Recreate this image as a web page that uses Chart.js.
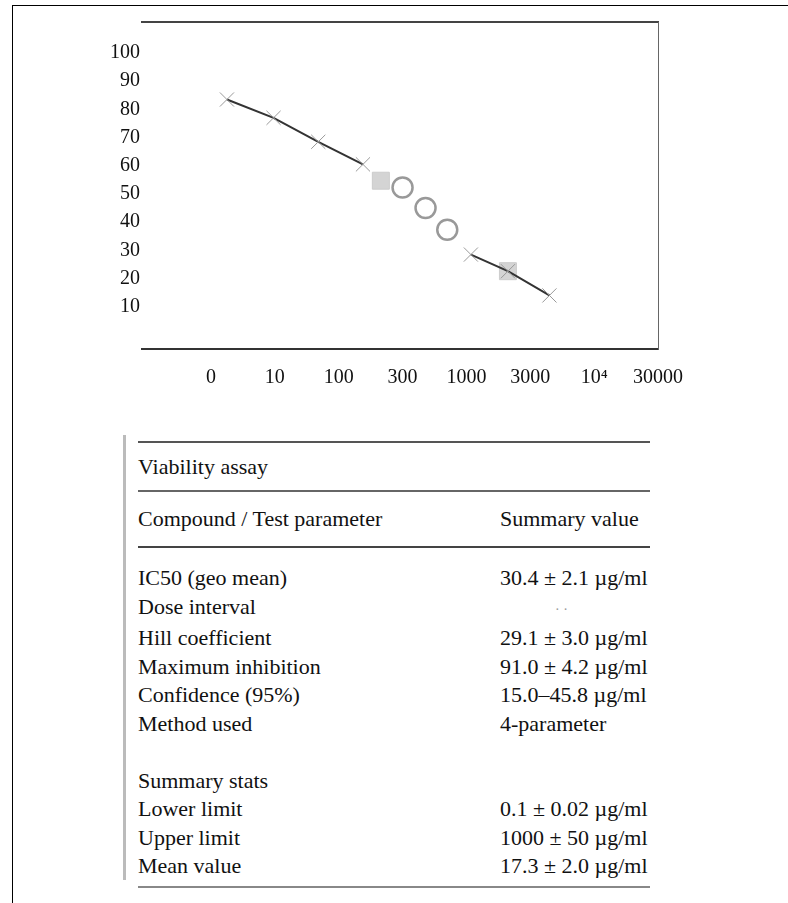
<!DOCTYPE html>
<html>
<head>
<meta charset="utf-8">
<script src="https://cdn.jsdelivr.net/npm/chart.js@4.4.1/dist/chart.umd.min.js"></script>
<style>
  body { margin: 0; background: #fff; font-family: "Liberation Serif", "DejaVu Serif", serif; }
  .page { position: absolute; left: 12px; top: 5px; width: 775px; height: 960px; border: 1px solid #000; border-bottom: none; }
  .chart-box { position: absolute; left: 108px; top: 8px; width: 592px; height: 399px; }
  .panel { position: absolute; left: 123px; top: 435px; width: 512px; height: 445px; border-left: 3px solid #bbb; padding-left: 12px; color: #111; font-size: 22px; }
  .panel h3 { margin: 6px 0 0; height: 47px; line-height: 47px; font-size: 22px; font-weight: normal; border-top: 2px solid #555; border-bottom: 2px solid #666; }
  .panel table { width: 100%; border-collapse: collapse; }
  .panel th { font-weight: normal; text-align: left; height: 54px; padding: 0; border-bottom: 2px solid #444; font-size: 22px; }
  .panel td { padding: 0; height: 28.5px; line-height: 28.5px; vertical-align: top; white-space: nowrap; }
  .panel td.v, .panel th.v { width: 150px; }
  .panel tr.gap td { height: 16px; }
  .panel tr.blank td { height: 28.5px; }
  .panel tr.last td { border-bottom: 2px solid #888; height: 34px; }
  .panel .dim { color: #999; font-size: 14px; padding-left: 55px; }
</style>
</head>
<body>
<div class="page"></div>
<div class="chart-box"><canvas id="chart"></canvas></div>

<div class="panel">
  <h3>Viability assay</h3>
  <table>
    <thead><tr><th>Compound / Test parameter</th><th class="v">Summary value</th></tr></thead>
    <tbody id="rows"><tr class="gap"><td></td><td></td></tr></tbody>
  </table>
</div>

<script>
// x tick labels (dose) and y ticks (% response)
const xLabels = ['0', '10', '100', '300', '1000', '3000', '10⁴', '30000'];
const yTicks = [10, 20, 30, 40, 50, 60, 70, 80, 90, 100];

// fitted curve (null = gap in the line)
const fitX = [0.25, 0.98, 1.68, 2.38, 3.0, 4.07, 4.65, 5.3];
const fitY = [83.5, 77, 68.5, 60.5, null, 28.5, 22.6, 14];

// measured points
const openX = [3.0, 3.36, 3.7];
const openY = [52.3, 45, 37.3];
const boxX = [2.66, 4.65];
const boxY = [54.7, 22.6];

// summary table
const rowLabels = ['IC50 (geo mean)', 'Dose interval', 'Hill coefficient', 'Maximum inhibition', 'Confidence (95%)', 'Method used'];
const rowValues = ['30.4 ± 2.1 µg/ml', '–', '29.1 ± 3.0 µg/ml', '91.0 ± 4.2 µg/ml', '15.0–45.8 µg/ml', '4-parameter'];
const secLabels = ['Summary stats', 'Lower limit', 'Upper limit', 'Mean value'];
const secValues = ['', '0.1 ± 0.02 µg/ml', '1000 ± 50 µg/ml', '17.3 ± 2.0 µg/ml'];

const tbody = document.getElementById('rows');
rowLabels.forEach((l, i) => {
  const v = rowValues[i] === '–' ? `<span class="dim">· ·</span>` : rowValues[i];
  tbody.insertAdjacentHTML('beforeend', `<tr><td>${l}</td><td class="v">${v}</td></tr>`);
});
tbody.insertAdjacentHTML('beforeend', `<tr class="blank"><td></td><td></td></tr>`);
secLabels.forEach((l, i) => {
  const cls = i === secLabels.length - 1 ? 'last' : '';
  tbody.insertAdjacentHTML('beforeend', `<tr class="${cls}"><td>${l}</td><td class="v">${secValues[i]}</td></tr>`);
});

const pts = (xs, ys) => xs.map((x, i) => ({ x, y: ys[i] }));
const tickFont = { family: 'Liberation Serif', size: 20 };

new Chart(document.getElementById('chart'), {
  type: 'scatter',
  data: {
    datasets: [
      {
        label: 'Fit',
        data: pts(fitX, fitY),
        showLine: true,
        spanGaps: false,
        borderColor: '#333',
        borderWidth: 2,
        pointStyle: 'crossRot',
        pointRadius: 10,
        pointBorderColor: '#999',
        pointBorderWidth: 1,
      },
      {
        label: 'Measured',
        data: pts(openX, openY),
        pointStyle: 'circle',
        pointRadius: 10,
        pointBorderColor: '#999',
        pointBorderWidth: 2.5,
        pointBackgroundColor: 'rgba(0,0,0,0)',
      },
      {
        label: 'Control',
        data: pts(boxX, boxY),
        pointStyle: 'rect',
        pointRadius: 12,
        pointBorderColor: '#ccc',
        pointBackgroundColor: '#d4d4d4',
      },
    ],
  },
  options: {
    responsive: true,
    maintainAspectRatio: false,
    animation: false,
    layout: { padding: { top: 8, right: 0, bottom: 0, left: 0 } },
    plugins: { legend: { display: false }, tooltip: { enabled: false } },
    scales: {
      x: {
        type: 'linear',
        min: -1.08,
        max: 7.0,
        afterBuildTicks: (s) => { s.ticks = xLabels.map((_, i) => ({ value: i })); },
        ticks: {
          callback: (v) => xLabels[v] ?? '',
          color: '#111',
          font: tickFont,
          maxRotation: 0,
          autoSkip: false,
          padding: 17,
        },
        grid: { display: false, drawTicks: false },
        border: { color: '#333', width: 2 },
      },
      xTop: {
        type: 'linear', position: 'top', min: 0, max: 1,
        ticks: { display: false }, grid: { display: false, drawTicks: false },
        border: { color: '#444', width: 2 },
      },
      y: {
        min: -5,
        max: 111,
        afterBuildTicks: (s) => { s.ticks = yTicks.map((v) => ({ value: v })); },
        ticks: { color: '#111', font: tickFont, padding: 2 },
        grid: { display: false, drawTicks: false },
        border: { display: false },
      },
      yRight: {
        position: 'right', min: 0, max: 1,
        ticks: { display: false }, grid: { display: false, drawTicks: false },
        border: { color: '#666', width: 1 },
      },
    },
  },
});
</script>
</body>
</html>
